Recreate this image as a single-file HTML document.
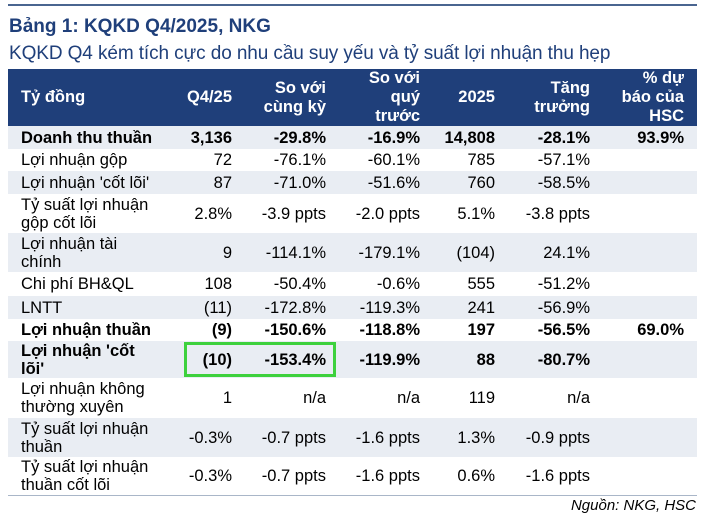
<!DOCTYPE html>
<html><head><meta charset="utf-8"><style>
*{margin:0;padding:0;box-sizing:border-box}
body{width:710px;height:522px;background:#fff;font-family:"Liberation Sans",Arial,sans-serif;position:relative;overflow:hidden;color:#000}
.rule{position:absolute;left:8px;top:4px;width:689px;height:2px;background:#4a6590}
.t1{position:absolute;left:9px;top:16px;font-size:19px;font-weight:bold;color:#1f3f7a}
.t2{position:absolute;left:9px;top:43px;font-size:19px;color:#1f3f7a;letter-spacing:-0.1px}
table{position:absolute;left:8px;top:69px;border-collapse:collapse;table-layout:fixed;width:689px;font-size:16.5px;line-height:18px}
td{padding:0;text-align:right;vertical-align:middle;white-space:nowrap}
td.l{text-align:left;padding-left:13px}
tr.h td{background:#1f3f7a;color:#fff;font-weight:bold;height:57px;line-height:19px}
tr.g td{background:#e9edf3}
tr.b td{font-weight:bold}
tr.last td{border-bottom:1px solid #a9b6c8}
.box{position:absolute;left:184px;top:342px;width:152px;height:35px;border:3px solid #3dd13d}
.src{position:absolute;right:14px;top:497px;font-size:15px;font-style:italic}
</style></head><body>
<div class="rule"></div>
<div class="t1">Bảng 1: KQKD Q4/2025, NKG</div>
<div class="t2">KQKD Q4 kém tích cực do nhu cầu suy yếu và tỷ suất lợi nhuận thu hẹp</div>
<table>
<colgroup><col style="width:174px"><col style="width:50px"><col style="width:94px"><col style="width:94px"><col style="width:75px"><col style="width:95px"><col style="width:94px"><col style="width:13px"></colgroup>
<tr class="h"><td class="l">Tỷ đồng</td><td>Q4/25</td><td>So với<br>cùng kỳ</td><td>So với<br>quý<br>trước</td><td>2025</td><td>Tăng<br>trưởng</td><td>% dự<br>báo của<br>HSC</td><td></td></tr>
<tr class="g b" style="height:23px"><td class="l">Doanh thu thuần</td><td>3,136</td><td>-29.8%</td><td>-16.9%</td><td>14,808</td><td>-28.1%</td><td>93.9%</td><td></td></tr>
<tr style="height:22px"><td class="l">Lợi nhuận gộp</td><td>72</td><td>-76.1%</td><td>-60.1%</td><td>785</td><td>-57.1%</td><td></td><td></td></tr>
<tr class="g" style="height:23px"><td class="l">Lợi nhuận 'cốt lõi'</td><td>87</td><td>-71.0%</td><td>-51.6%</td><td>760</td><td>-58.5%</td><td></td><td></td></tr>
<tr style="height:39px"><td class="l">Tỷ suất lợi nhuận<br>gộp cốt lõi</td><td>2.8%</td><td>-3.9 ppts</td><td>-2.0 ppts</td><td>5.1%</td><td>-3.8 ppts</td><td></td><td></td></tr>
<tr class="g" style="height:39px"><td class="l">Lợi nhuận tài<br>chính</td><td>9</td><td>-114.1%</td><td>-179.1%</td><td>(104)</td><td>24.1%</td><td></td><td></td></tr>
<tr style="height:24px"><td class="l">Chi phí BH&amp;QL</td><td>108</td><td>-50.4%</td><td>-0.6%</td><td>555</td><td>-51.2%</td><td></td><td></td></tr>
<tr class="g" style="height:23px"><td class="l">LNTT</td><td>(11)</td><td>-172.8%</td><td>-119.3%</td><td>241</td><td>-56.9%</td><td></td><td></td></tr>
<tr class="b" style="height:22px"><td class="l">Lợi nhuận thuần</td><td>(9)</td><td>-150.6%</td><td>-118.8%</td><td>197</td><td>-56.5%</td><td>69.0%</td><td></td></tr>
<tr class="g b" style="height:37px"><td class="l">Lợi nhuận 'cốt<br>lõi'</td><td>(10)</td><td>-153.4%</td><td>-119.9%</td><td>88</td><td>-80.7%</td><td></td><td></td></tr>
<tr style="height:40px"><td class="l">Lợi nhuận không<br>thường xuyên</td><td>1</td><td>n/a</td><td>n/a</td><td>119</td><td>n/a</td><td></td><td></td></tr>
<tr class="g" style="height:39px"><td class="l">Tỷ suất lợi nhuận<br>thuần</td><td>-0.3%</td><td>-0.7 ppts</td><td>-1.6 ppts</td><td>1.3%</td><td>-0.9 ppts</td><td></td><td></td></tr>
<tr class="last" style="height:38px"><td class="l">Tỷ suất lợi nhuận<br>thuần cốt lõi</td><td>-0.3%</td><td>-0.7 ppts</td><td>-1.6 ppts</td><td>0.6%</td><td>-1.6 ppts</td><td></td><td></td></tr>
</table>
<div class="box"></div>
<div class="src">Nguồn: NKG, HSC</div>
</body></html>
